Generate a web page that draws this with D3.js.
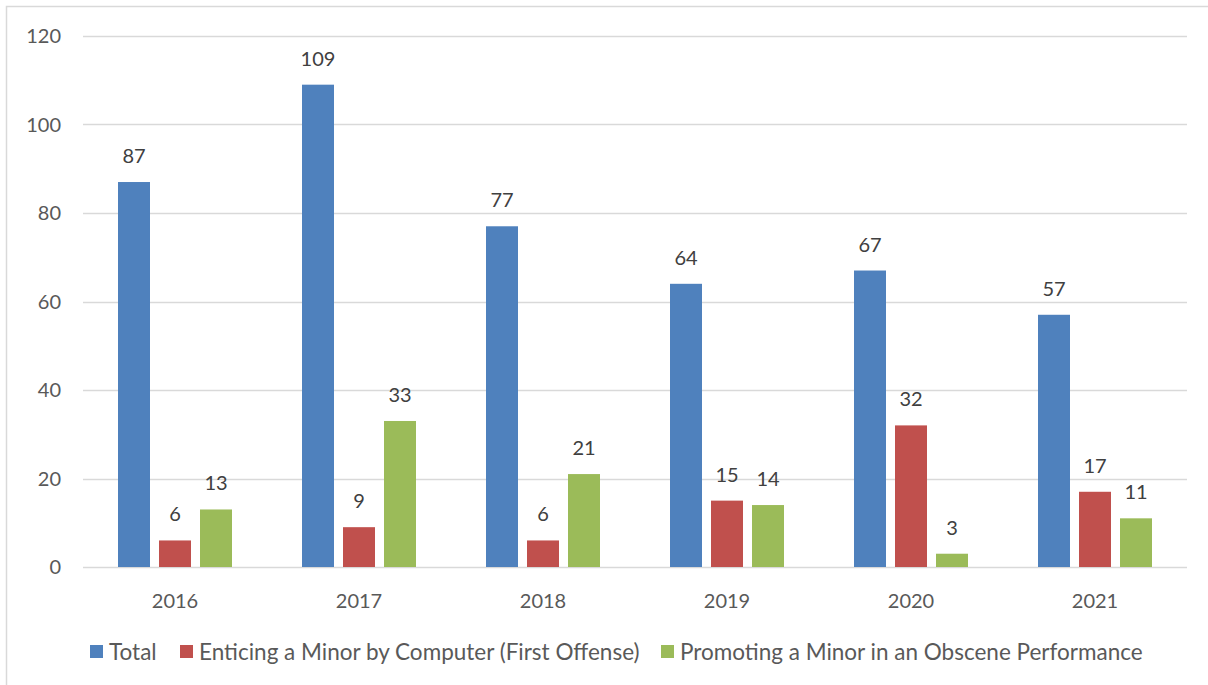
<!DOCTYPE html>
<html>
<head>
<meta charset="utf-8">
<script src="https://cdn.jsdelivr.net/npm/d3@7"></script>
<style>
  body { margin: 0; background: #fff; }
  svg text { font-family: Lato, "Open Sans", sans-serif; fill: #595959; }
</style>
</head>
<body>
<svg id="chart" width="1208" height="685"></svg>
<script>
const years = ["2016", "2017", "2018", "2019", "2020", "2021"];
const seriesNames = ["Total", "Enticing a Minor by Computer (First Offense)", "Promoting a Minor in an Obscene Performance"];
const total = [87, 109, 77, 64, 67, 57];
const enticing = [6, 9, 6, 15, 32, 17];
const promoting = [13, 33, 21, 14, 3, 11];
const yTicks = [0, 20, 40, 60, 80, 100, 120];
const colors = ["#4F81BD", "#C0504D", "#9BBB59"];

const svg = d3.select("#chart");

// outer border of the chart box
svg.append("rect")
  .attr("x", 6.5).attr("y", 6.5)
  .attr("width", 1230).attr("height", 700)
  .attr("fill", "none")
  .attr("stroke", "#D9D9D9")
  .attr("stroke-width", 1.5);

const plotLeft = 83, plotRight = 1187, plotTop = 36, plotBottom = 567;

const x = d3.scaleBand().domain(years).range([plotLeft, plotRight]).padding(0);
const xInner = d3.scaleBand().domain([0, 1, 2]).range([35, 149]).paddingInner(9 / 41).paddingOuter(0);
const y = d3.scaleLinear().domain([0, 120]).range([plotBottom, plotTop]);

// gridlines
svg.append("g")
  .selectAll("line")
  .data(yTicks)
  .enter()
  .append("line")
  .attr("x1", plotLeft).attr("x2", plotRight)
  .attr("y1", d => Math.round(y(d)) + 0.5)
  .attr("y2", d => Math.round(y(d)) + 0.5)
  .attr("stroke", "#D9D9D9")
  .attr("stroke-width", 1.3);

// y tick labels
svg.append("g")
  .selectAll("text")
  .data(yTicks)
  .enter()
  .append("text")
  .attr("x", 61)
  .attr("y", d => y(d) + 7)
  .attr("text-anchor", "end")
  .attr("font-size", 20)
  .text(d => d);

// x labels
svg.append("g")
  .selectAll("text")
  .data(years)
  .enter()
  .append("text")
  .attr("x", d => x(d) + x.bandwidth() / 2)
  .attr("y", 608)
  .attr("text-anchor", "middle")
  .attr("font-size", 20)
  .text(d => d);

const rows = [];
[total, enticing, promoting].forEach((vals, s) => {
  vals.forEach((v, i) => rows.push({ year: years[i], s: s, v: v }));
});

svg.append("g")
  .selectAll("rect")
  .data(rows)
  .enter()
  .append("rect")
  .attr("x", d => x(d.year) + xInner(d.s))
  .attr("y", d => y(d.v))
  .attr("width", xInner.bandwidth())
  .attr("height", d => plotBottom - y(d.v))
  .attr("fill", d => colors[d.s]);

svg.append("g")
  .selectAll("text")
  .data(rows)
  .enter()
  .append("text")
  .attr("x", d => x(d.year) + xInner(d.s) + xInner.bandwidth() / 2)
  .attr("y", d => y(d.v) - 19)
  .attr("text-anchor", "middle")
  .attr("font-size", 20)
  .style("fill", "#404040")
  .text(d => d.v);

// legend
const legendX = [90, 180, 661];
const legend = svg.append("g")
  .selectAll("g")
  .data(seriesNames)
  .enter()
  .append("g")
  .attr("transform", (d, i) => `translate(${legendX[i]},0)`);

legend.append("rect")
  .attr("x", 0).attr("y", 645)
  .attr("width", 13).attr("height", 13)
  .attr("fill", (d, i) => colors[i]);

legend.append("text")
  .attr("x", 19)
  .attr("y", 660)
  .attr("font-size", 22.5)
  .text(d => d);
</script>
</body>
</html>
